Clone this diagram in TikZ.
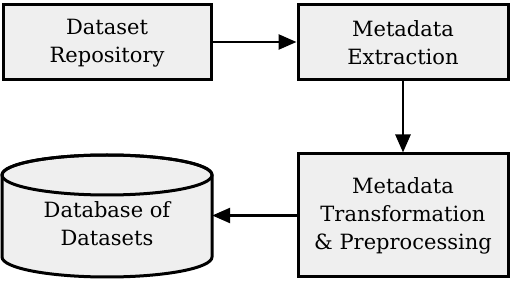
\documentclass[tikz,border=0pt]{standalone}
\usepackage{fontspec}
\setmainfont{DejaVu Serif}
\usetikzlibrary{arrows.meta,shapes.geometric}
\definecolor{boxfill}{HTML}{EFEFEF}
\tikzset{
  procbox/.style={draw=black, line width=3pt, fill=boxfill, inner sep=0pt},
  lbl/.style={align=center, font=\fontsize{21}{28}\selectfont},
  conn/.style={line width=2.6pt, -{Triangle[length=18pt,width=15pt]}},
}
\begin{document}
\begin{tikzpicture}[x=1pt,y=-1pt]
\useasboundingbox (0,0) rectangle (512,283);
\node[procbox, minimum width=208pt, minimum height=75pt] (repo) at (107,42) {};
\node[lbl] at (107,43) {Dataset\\Repository};
\node[procbox, minimum width=210pt, minimum height=75pt] (extr) at (403,42) {};
\node[lbl] at (403,43) {Metadata\\Extraction};
\node[procbox, minimum width=210pt, minimum height=123pt] (trans) at (403,215.5) {};
\node[lbl] at (403,216) {Metadata\\Transformation\\\& Preprocessing};
% cylinder
\draw[line width=3pt, fill=boxfill]
  (2,175) -- (2,257) arc[start angle=180, end angle=360, x radius=105pt, y radius=20pt]
  -- (212,175) arc[start angle=0, end angle=180, x radius=105pt, y radius=20pt] -- cycle;
\draw[line width=3pt] (107,175) ellipse[x radius=105pt, y radius=20pt];
\node[lbl, minimum width=210pt, inner sep=0pt] (db) at (107,224) {Database of\\Datasets};
\draw[conn] (repo.east) -- (extr.west);
\draw[conn] (extr.south) -- (trans.north);
\draw[conn] (trans.west) -- (trans.west -| db.east);
\end{tikzpicture}
\end{document}
